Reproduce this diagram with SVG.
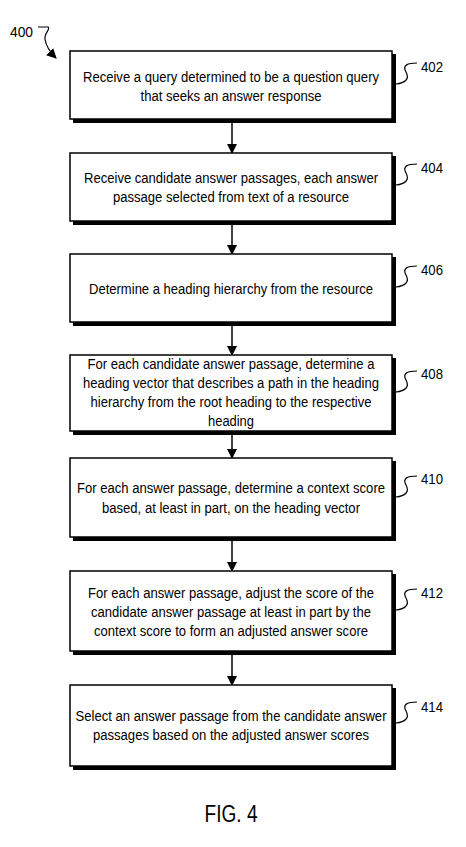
<svg xmlns="http://www.w3.org/2000/svg" width="466" height="847" viewBox="0 0 466 847">
<style>
.t{font-family:"Liberation Sans",Arial,sans-serif;font-size:14px;fill:#000;text-anchor:middle}
.l{font-family:"Liberation Sans",Arial,sans-serif;font-size:15px;fill:#000}
.sh{fill:#000}
.bx{fill:#fff;stroke:#000;stroke-width:1.5}
.ld{fill:none;stroke:#000;stroke-width:1.2}
.cn{stroke:#000;stroke-width:1.5;fill:none}
</style>
<defs>
<marker id="ah" markerWidth="10" markerHeight="10" refX="9" refY="5" orient="auto" markerUnits="userSpaceOnUse">
<path d="M0,0 L10,5 L0,10 Z" fill="#000"/>
</marker>
<path id="lead" d="M0,32 C9,31 14,27 10,20 C6,13 12,11 21,11"/>
</defs>
<rect width="466" height="847" fill="#fff"/>

<g id="ref400">
<text class="l" x="10" y="37" textLength="23" lengthAdjust="spacingAndGlyphs">400</text>
<path class="ld" d="M38,27 L48,27 C51,29 44,33 45,39 C46,47 51,53 56,58" marker-end="url(#ah)"/>
</g>

<g id="connectors">
<line class="cn" x1="232" y1="123" x2="232" y2="153" marker-end="url(#ah)"/>
<line class="cn" x1="232" y1="225" x2="232" y2="254" marker-end="url(#ah)"/>
<line class="cn" x1="232" y1="326" x2="232" y2="355" marker-end="url(#ah)"/>
<line class="cn" x1="232" y1="435" x2="232" y2="458" marker-end="url(#ah)"/>
<line class="cn" x1="232" y1="541" x2="232" y2="571" marker-end="url(#ah)"/>
<line class="cn" x1="232" y1="655" x2="232" y2="685" marker-end="url(#ah)"/>
</g>

<g id="n402">
<rect class="sh" x="73" y="54" width="323" height="69"/>
<rect class="bx" x="70" y="51" width="322" height="68"/>
<text class="t" x="231" y="82" textLength="296" lengthAdjust="spacingAndGlyphs">Receive a query determined to be a question query</text>
<text class="t" x="231" y="101" textLength="181" lengthAdjust="spacingAndGlyphs">that seeks an answer response</text>
<use href="#lead" class="ld" x="396" y="52"/>
<text class="l" x="421" y="72" textLength="22" lengthAdjust="spacingAndGlyphs">402</text>
</g>

<g id="n404">
<rect class="sh" x="73" y="156" width="323" height="69"/>
<rect class="bx" x="70" y="153" width="322" height="68"/>
<text class="t" x="231" y="183" textLength="294" lengthAdjust="spacingAndGlyphs">Receive candidate answer passages, each answer</text>
<text class="t" x="231" y="202" textLength="236" lengthAdjust="spacingAndGlyphs">passage selected from text of a resource</text>
<use href="#lead" class="ld" x="396" y="153"/>
<text class="l" x="421" y="173" textLength="22" lengthAdjust="spacingAndGlyphs">404</text>
</g>

<g id="n406">
<rect class="sh" x="73" y="257" width="323" height="69"/>
<rect class="bx" x="70" y="254" width="322" height="68"/>
<text class="t" x="231" y="294" textLength="284" lengthAdjust="spacingAndGlyphs">Determine a heading hierarchy from the resource</text>
<use href="#lead" class="ld" x="396" y="255"/>
<text class="l" x="421" y="275" textLength="22" lengthAdjust="spacingAndGlyphs">406</text>
</g>

<g id="n408">
<rect class="sh" x="73" y="358" width="323" height="77"/>
<rect class="bx" x="70" y="355" width="322" height="76"/>
<text class="t" x="231" y="369" textLength="287" lengthAdjust="spacingAndGlyphs">For each candidate answer passage, determine a</text>
<text class="t" x="231" y="388" textLength="296" lengthAdjust="spacingAndGlyphs">heading vector that describes a path in the heading</text>
<text class="t" x="231" y="407" textLength="281" lengthAdjust="spacingAndGlyphs">hierarchy from the root heading to the respective</text>
<text class="t" x="231" y="426" textLength="46" lengthAdjust="spacingAndGlyphs">heading</text>
<use href="#lead" class="ld" x="396" y="360"/>
<text class="l" x="421" y="379" textLength="22" lengthAdjust="spacingAndGlyphs">408</text>
</g>

<g id="n410">
<rect class="sh" x="73" y="461" width="323" height="80"/>
<rect class="bx" x="70" y="458" width="322" height="79"/>
<text class="t" x="231" y="493" textLength="308" lengthAdjust="spacingAndGlyphs">For each answer passage, determine a context score</text>
<text class="t" x="231" y="513" textLength="258" lengthAdjust="spacingAndGlyphs">based, at least in part, on the heading vector</text>
<use href="#lead" class="ld" x="396" y="465"/>
<text class="l" x="421" y="484" textLength="22" lengthAdjust="spacingAndGlyphs">410</text>
</g>

<g id="n412">
<rect class="sh" x="73" y="574" width="323" height="81"/>
<rect class="bx" x="70" y="571" width="322" height="80"/>
<text class="t" x="231" y="598" textLength="286" lengthAdjust="spacingAndGlyphs">For each answer passage, adjust the score of the</text>
<text class="t" x="231" y="617" textLength="280" lengthAdjust="spacingAndGlyphs">candidate answer passage at least in part by the</text>
<text class="t" x="231" y="636" textLength="274" lengthAdjust="spacingAndGlyphs">context score to form an adjusted answer score</text>
<use href="#lead" class="ld" x="396" y="578"/>
<text class="l" x="421" y="598" textLength="22" lengthAdjust="spacingAndGlyphs">412</text>
</g>

<g id="n414">
<rect class="sh" x="73" y="688" width="323" height="82"/>
<rect class="bx" x="70" y="685" width="322" height="81"/>
<text class="t" x="231" y="721" textLength="311" lengthAdjust="spacingAndGlyphs">Select an answer passage from the candidate answer</text>
<text class="t" x="231" y="740" textLength="276" lengthAdjust="spacingAndGlyphs">passages based on the adjusted answer scores</text>
<use href="#lead" class="ld" x="396" y="691"/>
<text class="l" x="421" y="712" textLength="22" lengthAdjust="spacingAndGlyphs">414</text>
</g>

<g id="caption">
<text class="t" x="231" y="822" style="font-size:23px" textLength="53" lengthAdjust="spacingAndGlyphs">FIG. 4</text>
</g>
</svg>
